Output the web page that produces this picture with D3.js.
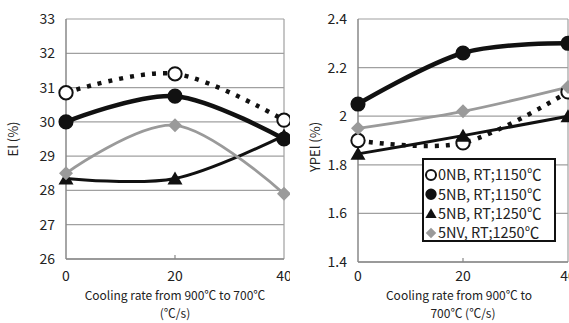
<!DOCTYPE html>
<html>
<head>
<meta charset="utf-8">
<script src="https://cdn.jsdelivr.net/npm/d3@7"></script>
<style>
  body { margin: 0; background: #fff; }
  text { font-family: "Noto Sans CJK JP", "Liberation Sans", sans-serif; fill: #222; }
</style>
</head>
<body>
<div id="wrapper"></div>
<script>
// cooling rate (°C/s)
const coolingRates = [0, 20, 40];
const seriesNames = ["0NB, RT;1150\u2103", "5NB, RT;1150\u2103", "5NB, RT;1250\u2103", "5NV, RT;1250\u2103"];

// El (%)
const elONB = [30.85, 31.4, 30.05];
const el5NB1150 = [30.0, 30.75, 29.5];
const el5NB1250 = [28.35, 28.35, 29.6];
const el5NV = [28.5, 29.9, 27.9];
const elTicks = [26, 27, 28, 29, 30, 31, 32, 33];

// YPEl (%)
const ypONB = [1.90, 1.89, 2.10];
const yp5NB1150 = [2.05, 2.26, 2.30];
const yp5NB1250 = [1.845, 1.92, 2.0];
const yp5NV = [1.95, 2.02, 2.12];
const ypTicks = [1.4, 1.6, 1.8, 2.0, 2.2, 2.4];

const xTicks = [0, 20, 40];

const gray = "#9a9a9a";
// style per series: marker, line
const styles = [
  { marker: "open", stroke: "#111", width: 4.5, dash: "4,7" },
  { marker: "dot", stroke: "#111", width: 4.5, dash: null },
  { marker: "tri", stroke: "#111", width: 3, dash: null },
  { marker: "diamond", stroke: gray, width: 2.8, dash: null }
];

const width = 569, height = 323;
const svg = d3.select("#wrapper").append("svg")
  .attr("width", width)
  .attr("height", height);

svg.append("rect").attr("width", width).attr("height", height).attr("fill", "#fff");

function drawPanel(opt) {
  const g = svg.append("g");
  // white background so the previous panel gets cut
  g.append("rect")
    .attr("x", opt.left).attr("y", 0)
    .attr("width", opt.panelW).attr("height", height)
    .attr("fill", "#fff");

  const x = d3.scaleLinear().domain([0, 40]).range([opt.x0, opt.x1]);
  const y = d3.scaleLinear().domain(opt.yDomain).range([opt.y1, opt.y0]);

  // grid lines
  g.append("g").selectAll("line")
    .data(opt.yTicks)
    .join("line")
    .attr("x1", opt.x0).attr("x2", opt.x1)
    .attr("y1", d => y(d)).attr("y2", d => y(d))
    .attr("stroke", "#a0a0a0").attr("stroke-width", 1.2);

  // frame
  g.append("line").attr("x1", opt.x1).attr("x2", opt.x1).attr("y1", opt.y0).attr("y2", opt.y1)
    .attr("stroke", "#a0a0a0").attr("stroke-width", 1.2);
  g.append("line").attr("x1", opt.x0).attr("x2", opt.x0).attr("y1", opt.y0).attr("y2", opt.y1)
    .attr("stroke", "#888").attr("stroke-width", 1.5);
  g.append("line").attr("x1", opt.x0).attr("x2", opt.x1).attr("y1", opt.y1).attr("y2", opt.y1)
    .attr("stroke", "#888").attr("stroke-width", 1.5);
  // small tick at 20
  g.append("line").attr("x1", x(20)).attr("x2", x(20)).attr("y1", opt.y1).attr("y2", opt.y1 - 4)
    .attr("stroke", "#888").attr("stroke-width", 1.2);

  // y tick labels
  g.append("g").selectAll("text")
    .data(opt.yTicks)
    .join("text")
    .attr("x", opt.x0 - 11)
    .attr("y", d => y(d))
    .attr("dy", "0.36em")
    .attr("text-anchor", "end")
    .style("font-size", "14px")
    .text(opt.fmt);

  // x tick labels
  g.append("g").selectAll("text")
    .data(xTicks)
    .join("text")
    .attr("x", d => x(d))
    .attr("y", 281)
    .attr("text-anchor", "middle")
    .style("font-size", "14px")
    .text(d => d);

  // axis titles
  opt.xTitle.forEach((t, i) => {
    g.append("text")
      .attr("x", opt.xTitleX[i])
      .attr("y", 300 + i * 18)
      .attr("text-anchor", "middle")
      .style("font-size", "12px")
      .text(t);
  });
  g.append("text")
    .attr("transform", `translate(${opt.yTitleX},${opt.yTitleY}) rotate(-90)`)
    .attr("text-anchor", "middle")
    .style("font-size", "13px")
    .text(opt.yTitle);

  const line = d3.line()
    .x((d, i) => x(coolingRates[i]))
    .y(d => y(d))
    .curve(d3.curveCardinal.tension(0));

  // lines
  opt.series.forEach((vals, k) => {
    const s = styles[k];
    g.append("path")
      .datum(vals)
      .attr("d", line)
      .attr("fill", "none")
      .attr("stroke", s.stroke)
      .attr("stroke-width", s.width)
      .attr("stroke-dasharray", s.dash);
  });

  // markers
  opt.series.forEach((vals, k) => {
    const pts = vals.map((v, i) => [x(coolingRates[i]), y(v)]);
    drawMarkers(g, pts, styles[k].marker, 1);
  });
  return { x, y, g };
}

function drawMarkers(g, pts, kind, s) {
  const sel = g.append("g").selectAll("path").data(pts).join("path")
    .attr("transform", d => `translate(${d[0]},${d[1]}) scale(${s})`);
  if (kind === "open") {
    sel.attr("d", d3.symbol(d3.symbolCircle, 140)())
      .attr("fill", "#fff").attr("stroke", "#111").attr("stroke-width", 2 / s);
  } else if (kind === "dot") {
    sel.attr("d", d3.symbol(d3.symbolCircle, 180)()).attr("fill", "#111");
  } else if (kind === "tri") {
    sel.attr("d", "M0,-7L7.5,6L-7.5,6Z").attr("fill", "#111");
  } else {
    sel.attr("d", "M0,-7L7,0L0,7L-7,0Z").attr("fill", gray);
  }
}

drawPanel({
  left: 0, panelW: 290,
  x0: 66, x1: 284, y0: 19, y1: 259,
  yDomain: [26, 33], yTicks: elTicks,
  fmt: d => d,
  series: [elONB, el5NB1150, el5NB1250, el5NV],
  xTitle: ["Cooling rate from 900\u2103 to 700\u2103", "(\u2103/s)"],
  xTitleX: [175, 175],
  yTitle: "El (%)", yTitleX: 18, yTitleY: 139
});

drawPanel({
  left: 290, panelW: 279,
  x0: 358, x1: 568, y0: 19, y1: 262,
  yDomain: [1.4, 2.4], yTicks: ypTicks,
  fmt: d => String(+d.toFixed(1)),
  series: [ypONB, yp5NB1150, yp5NB1250, yp5NV],
  xTitle: ["Cooling rate from 900\u2103 to", "700\u2103 (\u2103/s)"],
  xTitleX: [459, 463],
  yTitle: "YPEl (%)", yTitleX: 320, yTitleY: 147
});

// legend
const lg = svg.append("g");
lg.append("rect")
  .attr("x", 423).attr("y", 159).attr("width", 132).attr("height", 82)
  .attr("fill", "#fff").attr("stroke", "#111").attr("stroke-width", 2);
seriesNames.forEach((name, k) => {
  const cy = 175 + k * 19.3;
  drawMarkers(lg, [[431, cy]], styles[k].marker, 0.75);
  lg.append("text")
    .attr("x", 438).attr("y", cy)
    .attr("dy", "0.36em")
    .style("font-size", "14.5px")
    .text(name);
});
</script>
</body>
</html>
